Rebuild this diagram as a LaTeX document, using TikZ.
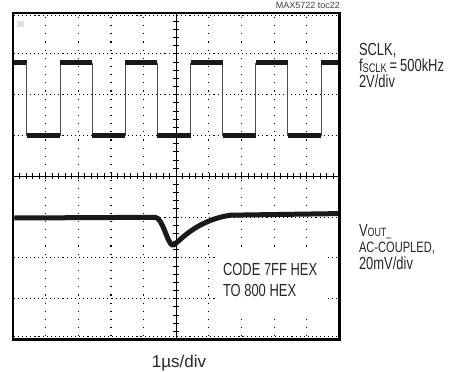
\documentclass[tikz,border=0pt]{standalone}
\usepackage{fontspec}
\setmainfont{Liberation Sans}[FakeStretch=0.74]
\newfontfamily\plainsans{Liberation Sans}
\begin{document}
\begin{tikzpicture}[x=1pt, y=-1pt, inner sep=0, outer sep=0,
    hdots/.style={line width=1.1pt, dash pattern=on 1.1pt off 2.98pt},
    vdots/.style={line width=1.1pt, dash pattern=on 1.1pt off 7.06pt},
    edge/.style={line width=0.9pt, draw=black!70},
    band/.style={line width=4.8pt, draw=black!90},
    lbl/.style={anchor=base west, text=black!85, font=\fontsize{17.5}{17}\selectfont}]
  \useasboundingbox (0,0) rectangle (456,372);

  % graticule
  \foreach \k in {1,...,7}
    \draw[hdots] (13.5,13+\k*40.81) -- (339,13+\k*40.81);
  \foreach \k in {1,...,9}
    \draw[vdots] (13+\k*32.65,17) -- (13+\k*32.65,339);
  \draw[hdots] (14,15.9) -- (339,15.9);
  \draw[hdots] (14,336.6) -- (339,336.6);

  % center axes with minor ticks
  \draw[line width=0.8pt] (176.25,13) -- (176.25,339.5);
  \draw[line width=0.8pt] (13,176.25) -- (339.5,176.25);
  \foreach \k in {1,...,39}
    \draw[line width=0.8pt] (173.4,13+\k*8.162) -- ++(5.7,0);
  \foreach \k in {1,...,49}
    \draw[line width=0.8pt] (13+\k*6.53,173.4) -- ++(0,5.7);

  % screen frame
  \draw[line width=2.6pt] (13,13) rectangle (339.5,339.5);
  \fill[black!12] (16.5,21) rectangle (23.5,27);

  % SCLK trace
  \def\per{65.3}
  \draw[band] (14.3,62.5) -- (26.7,62.5);
  \foreach \k in {0,...,4} {
    \pgfmathsetmacro\xf{26.7+\k*\per}
    \pgfmathsetmacro\xr{60+\k*\per}
    \draw[edge] (\xf,62.5) -- (\xf,135.5);
    \draw[edge] (\xr,135.5) -- (\xr,62.5);
    \draw[band] (\xf,135.5) -- (\xr,135.5);
  }
  \foreach \k in {0,...,3} {
    \pgfmathsetmacro\xr{60+\k*\per}
    \pgfmathsetmacro\xf{26.7+(\k+1)*\per}
    \draw[band] (\xr,62.5) -- (\xf,62.5);
  }
  \draw[band] (321.2,62.5) -- (338.2,62.5);

  % VOUT trace
  \draw[line width=5pt, draw=black!90, line join=round]
    (14.3,218) -- (155,217.3) .. controls (163,217.5) and (167,244) .. (173,245.5)
    .. controls (180,241) and (195,221) .. (230,215.2) -- (338.2,213.6);

  % labels
  \node[anchor=base east, text=black!75, font=\plainsans\fontsize{9}{9}\selectfont] (toc) at (340,8.5) {MAX5722 toc22};

  \node[lbl] (sclk) at (359,55) {SCLK,};
  \node[lbl] (fsclk) at (359,71) {f{\fontsize{12.5}{12}\selectfont\raisebox{-1.6pt}{SCLK}}\,=\,500kHz};
  \node[lbl] (sclkdiv) at (359,87.5) {2V/div};

  \node[lbl] (vout) at (359,236.5) {V{\fontsize{12}{12}\selectfont OUT\_}};
  \node[lbl, font=\fontsize{15}{15}\selectfont] (accoupled) at (359,252.5) {AC-COUPLED,};
  \node[lbl] (voutdiv) at (359,269.5) {20mV/div};

  \fill[white] (216,249) rectangle (326,313);
  \node[lbl] (code) at (223,275) {CODE 7FF HEX};
  \node[lbl] (code2) at (223,296) {TO 800 HEX};

  \node[anchor=base, text=black!85, font=\plainsans\fontsize{17}{17}\selectfont] (timediv) at (179,367) {1µs/div};
\end{tikzpicture}
\end{document}
